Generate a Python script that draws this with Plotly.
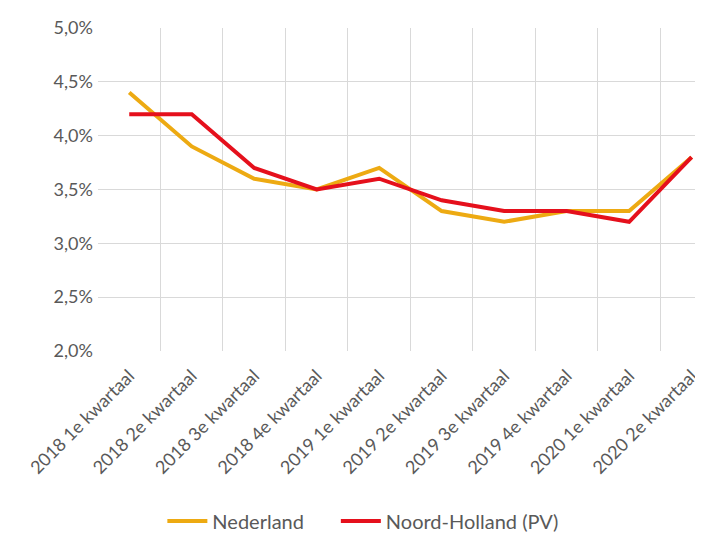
import plotly.graph_objects as go

kwartalen = ['2018 1e kwartaal', '2018 2e kwartaal', '2018 3e kwartaal', '2018 4e kwartaal',
             '2019 1e kwartaal', '2019 2e kwartaal', '2019 3e kwartaal', '2019 4e kwartaal',
             '2020 1e kwartaal', '2020 2e kwartaal']
nederland = [4.4, 3.9, 3.6, 3.5, 3.7, 3.3, 3.2, 3.3, 3.3, 3.8]
noord_holland = [4.2, 4.2, 3.7, 3.5, 3.6, 3.4, 3.3, 3.3, 3.2, 3.8]

tick_font = dict(family='Lato, Open Sans, sans-serif', size=18, color='#595959')
legend_font = dict(family='Lato, Open Sans, sans-serif', size=20, color='#595959')

fig = go.Figure()
fig.add_trace(go.Scatter(x=kwartalen, y=nederland, mode='lines', name='Nederland',
                         line=dict(color='#EDAA12', width=4), legend='legend'))
fig.add_trace(go.Scatter(x=kwartalen, y=noord_holland, mode='lines', name='Noord-Holland (PV)',
                         line=dict(color='#E5101C', width=4), legend='legend2'))

# two legends so the gap between the entries matches the original
leg = dict(orientation='h', xanchor='left', yanchor='middle',
           y=-0.526, font=legend_font, itemwidth=40)
fig.update_layout(
    width=703, height=533,
    margin=dict(l=90, r=0, t=20, b=184),
    plot_bgcolor='white', paper_bgcolor='white',
    separators=',.',
    showlegend=True,
    legend=dict(leg, x=0.105),
    legend2=dict(leg, x=0.388),
)
# Excel-style category axis: grid at the boundaries, labels in the middle
fig.update_xaxes(type='category', range=[-0.5, 9.31], tickson='boundaries', ticks='',
                 showgrid=True, gridcolor='#D9D9D9', gridwidth=1,
                 tickangle=-45, tickfont=tick_font, showline=False, zeroline=False,
                 ticklabelstandoff=10)
fig.update_yaxes(range=[2.0, 5.0], dtick=0.5, tickformat='.1f', ticksuffix='%',
                 showgrid=True, gridcolor='#D9D9D9', gridwidth=1, zeroline=False,
                 tickfont=tick_font, ticklabelstandoff=4)

fig.write_html("out.html")
